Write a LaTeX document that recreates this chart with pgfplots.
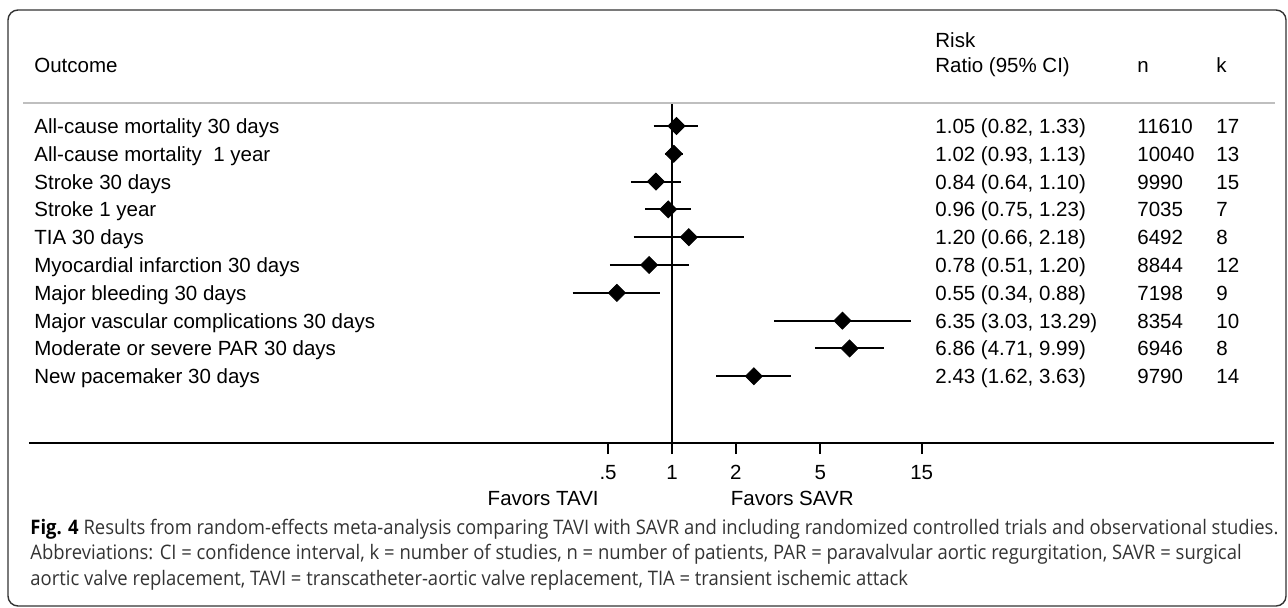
\documentclass[border=0pt]{standalone}
\usepackage{fontspec}
\setmainfont{Liberation Sans}
\newfontfamily\capfont{Open Sans}
\usepackage{graphicx}
\usepackage{pgfplots}
\pgfplotsset{compat=1.18}
\usepackage{pgfplotstable}

% risk ratios with 95% CI, one row per outcome
\pgfplotstableread{
row rr   lo   hi
1   1.05 0.82 1.33
2   1.02 0.93 1.13
3   0.84 0.64 1.10
4   0.96 0.75 1.23
5   1.20 0.66 2.18
6   0.78 0.51 1.20
7   0.55 0.34 0.88
8   6.35 3.03 13.29
9   6.86 4.71 9.99
10  2.43 1.62 3.63
}\rrtable

\newcommand\tabfont{\fontsize{10.25}{12}\selectfont}
% one table row: index, outcome, RR text, n, k
\newcommand\rowtext[5]{%
  \node at (34,{126+(#1-1)*27.8+7.4}) {#2};
  \node at (935,{126+(#1-1)*27.8+7.4}) {#3};
  \node at (1137,{126+(#1-1)*27.8+7.4}) {#4};
  \node at (1216,{126+(#1-1)*27.8+7.4}) {#5};
}
\newcommand\capone{\textcolor{black}{\textbf{Fig. 4}} Results from random-effects meta-analysis comparing TAVI with SAVR and including randomized controlled trials and observational studies.}
\newlength\capw

\begin{document}
\settowidth\capw{\capfont\fontsize{10}{12}\selectfont\capone}%
\pgfmathsetmacro\capsx{624pt/\capw}%
\begin{tikzpicture}
\useasboundingbox (0,0) rectangle (644pt,303.5pt);
\draw[rounded corners=5pt, line width=0.7pt, black!80] (4pt,298.5pt) rectangle (643pt,0.5pt);

\begin{axis}[
    at={(14.5pt,82pt)}, anchor=south west,
    scale only axis, width=622.5pt, height=170pt,
    xmode=log, xmin=0.000936, xmax=684.8,
    ymin=-12.40, ymax=-0.173,
    axis x line*=bottom, axis y line=none,
    x axis line style={line width=1pt},
    xtick={0.5,1,2,5,15}, xticklabels={.5,1,2,5,15},
    tick align=outside, major tick length=5.5pt,
    xtick style={line width=1pt, black},
    xticklabel style={font=\tabfont, inner sep=0pt, anchor=north, yshift=-5.5pt},
    clip=false,
  ]
  \addplot[black, line width=1pt] coordinates {(1,-0.173) (1,-12.40)};
  \addplot[black, line width=1pt] coordinates {(0.82,-1) (1.33,-1)};
  \addplot[black, line width=1pt] coordinates {(0.93,-2) (1.13,-2)};
  \addplot[black, line width=1pt] coordinates {(0.64,-3) (1.10,-3)};
  \addplot[black, line width=1pt] coordinates {(0.75,-4) (1.23,-4)};
  \addplot[black, line width=1pt] coordinates {(0.66,-5) (2.18,-5)};
  \addplot[black, line width=1pt] coordinates {(0.51,-6) (1.20,-6)};
  \addplot[black, line width=1pt] coordinates {(0.34,-7) (0.88,-7)};
  \addplot[black, line width=1pt] coordinates {(3.03,-8) (13.29,-8)};
  \addplot[black, line width=1pt] coordinates {(4.71,-9) (9.99,-9)};
  \addplot[black, line width=1pt] coordinates {(1.62,-10) (3.63,-10)};
  \addplot[only marks, mark=square*, mark size=3pt,
    mark options={rotate=45, fill=black, draw=black}]
    table[x=rr, y expr=-\thisrow{row}] {\rrtable};
\end{axis}

\begin{scope}[x=0.5pt, y=-0.5pt, yshift=303.5pt,
    every node/.style={font=\tabfont, inner sep=0pt, anchor=base west}]
  \draw[line width=1pt, black!25] (23,102.5) -- (1275,102.5);
  \node at (34,72.4) {Outcome};
  \node at (935,47.4) {Risk};
  \node at (935,72.4) {Ratio (95\% CI)};
  \node at (1137,72.4) {n};
  \node at (1216,72.4) {k};
  \rowtext{1}{All-cause mortality 30 days}{1.05 (0.82, 1.33)}{11610}{17}
  \rowtext{2}{All-cause mortality \hspace{0.28em}1 year}{1.02 (0.93, 1.13)}{10040}{13}
  \rowtext{3}{Stroke 30 days}{0.84 (0.64, 1.10)}{9990}{15}
  \rowtext{4}{Stroke 1 year}{0.96 (0.75, 1.23)}{7035}{7}
  \rowtext{5}{TIA 30 days}{1.20 (0.66, 2.18)}{6492}{8}
  \rowtext{6}{Myocardial infarction 30 days}{0.78 (0.51, 1.20)}{8844}{12}
  \rowtext{7}{Major bleeding 30 days}{0.55 (0.34, 0.88)}{7198}{9}
  \rowtext{8}{Major vascular complications 30 days}{6.35 (3.03, 13.29)}{8354}{10}
  \rowtext{9}{Moderate or severe PAR 30 days}{6.86 (4.71, 9.99)}{6946}{8}
  \rowtext{10}{New pacemaker 30 days}{2.43 (1.62, 3.63)}{9790}{14}
  \node[anchor=base east] at (599,505.4) {Favors TAVI};
  \node at (730.5,505.4) {Favors SAVR};

  \begin{scope}[every node/.style={font=\capfont\fontsize{10}{12}\selectfont, text=black!80, inner sep=0pt, anchor=base west}]
    \node at (30,534) {\scalebox{\capsx}[1]{\capone}};
    \node at (30,559.5) {\scalebox{\capsx}[1]{Abbreviations: CI = confidence interval, k = number of studies, n = number of patients, PAR = paravalvular aortic regurgitation, SAVR = surgical}};
    \node at (30,585) {\scalebox{\capsx}[1]{aortic valve replacement, TAVI = transcatheter-aortic valve replacement, TIA = transient ischemic attack}};
  \end{scope}
\end{scope}
\end{tikzpicture}
\end{document}
